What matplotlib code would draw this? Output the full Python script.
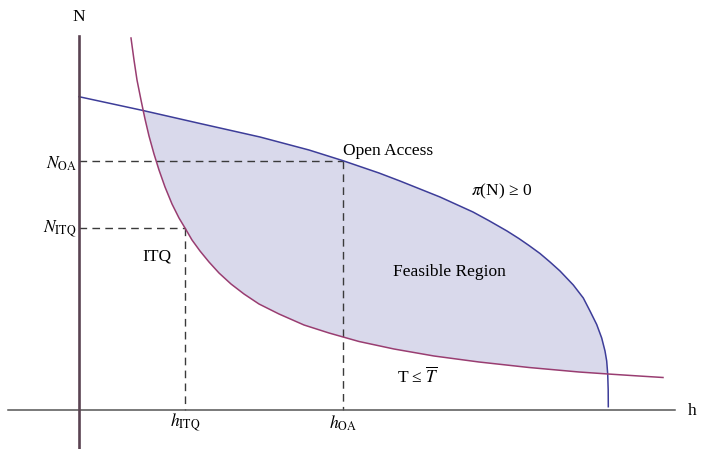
import numpy as np
import matplotlib.pyplot as plt

plt.rcParams["font.family"] = "Liberation Serif"
plt.rcParams["mathtext.fontset"] = "stix"

profit_h = [0.00, 0.64, 1.21, 1.81, 2.30, 2.64, 3.00, 3.21, 3.61, 3.94, 4.10, 4.28, 4.40,
            4.50, 4.61, 4.71, 4.81, 4.943, 5.043, 5.11, 5.177, 5.227, 5.26, 5.277, 5.287,
            5.292, 5.293]
profit_N = [3.133, 2.995, 2.865, 2.73, 2.60, 2.493, 2.37, 2.29, 2.13, 1.98, 1.893, 1.79, 1.714,
            1.645, 1.565, 1.48, 1.39, 1.25, 1.12, 0.99, 0.855, 0.72, 0.59, 0.49, 0.36,
            0.20, 0.033]

# total allowable catch constraint T = T-bar
tac_h = [0.52, 0.55, 0.58, 0.62, 0.643, 0.66, 0.70, 0.75, 0.80, 0.86, 0.93, 1.00, 1.06,
         1.13, 1.21, 1.30, 1.40, 1.52, 1.65, 1.80, 2.00, 2.25, 2.50, 2.80, 3.15, 3.55,
         4.00, 4.50, 5.00, 5.29, 5.60, 5.84]
tac_N = [3.72, 3.50, 3.30, 3.10, 2.99, 2.91, 2.74, 2.56, 2.40, 2.23, 2.06, 1.92, 1.82,
         1.70, 1.59, 1.48, 1.37, 1.26, 1.16, 1.06, 0.96, 0.85, 0.77, 0.685, 0.61, 0.54,
         0.48, 0.425, 0.38, 0.36, 0.34, 0.325]

# equilibrium points
h_oa, N_oa = 2.64, 2.493
h_itq, N_itq = 1.06, 1.82

blue = (0.24, 0.24, 0.6)
purple = (0.6, 0.24, 0.442)

fig = plt.figure(figsize=(7.01, 4.49), dpi=100)
ax = fig.add_axes([0, 0, 1, 1])
ax.set_xlim(-0.79, 6.22)
ax.set_ylim(-0.39, 4.10)
ax.axis("off")

# feasible region: under the profit curve, above the TAC curve
ph, pn = np.array(profit_h), np.array(profit_N)
th, tn = np.array(tac_h), np.array(tac_N)
top = (ph >= 0.64) & (pn >= 0.36)
bot = (th >= 0.643) & (th <= 5.29)
ax.fill(np.concatenate([ph[top], th[bot][::-1]]),
        np.concatenate([pn[top], tn[bot][::-1]]),
        color="#d9d9eb", lw=0, zorder=1)

dash = dict(color="#3a3a3a", lw=1.0, linestyle=(0, (5.5, 3.8)), zorder=2)
ax.plot([0, h_oa], [N_oa, N_oa], **dash)
ax.plot([h_oa, h_oa], [N_oa, 0], **dash)
ax.plot([0, h_itq], [N_itq, N_itq], **dash)
ax.plot([h_itq, h_itq], [N_itq, 0], **dash)

ax.plot(profit_h, profit_N, color=blue, lw=1.1, zorder=3)
ax.plot(tac_h, tac_N, color=purple, lw=1.1, zorder=3)

# axes
ax.plot([-0.71, 5.96], [0, 0], color="#555555", lw=1.1, zorder=4)
ax.plot([0, 0], [-0.39, 3.74], color="#5a4352", lw=1.9, zorder=4)

fs = 12.5
ax.text(0, 3.93, "N", ha="center", va="center", fontsize=fs)
ax.text(6.13, -0.01, "h", ha="center", va="center", fontsize=fs)
ax.text(-0.02, 2.46, r"$N_{\mathrm{OA}}$", ha="right", va="center", fontsize=fs)
ax.text(-0.02, 1.81, r"$N_{\mathrm{ITQ}}$", ha="right", va="center", fontsize=fs)
ax.text(h_itq, -0.13, r"$h_{\mathrm{ITQ}}$", ha="center", va="center", fontsize=fs)
ax.text(h_oa + 0.005, -0.13, r"$h_{\mathrm{OA}}$", ha="center", va="center", fontsize=fs)

ax.text(3.09, 2.59, "Open Access", ha="center", va="center", fontsize=fs)
ax.text(4.23, 2.19, r"$\pi$(N) ≥ 0", ha="center", va="center", fontsize=fs)
ax.text(3.70, 1.38, "Feasible Region", ha="center", va="center", fontsize=fs)
ax.text(0.78, 1.53, "ITQ", ha="center", va="center", fontsize=fs)
ax.text(3.39, 0.33, r"T ≤ $\overline{T}$", ha="center", va="center", fontsize=fs)

fig.savefig("out.png", dpi=100)
